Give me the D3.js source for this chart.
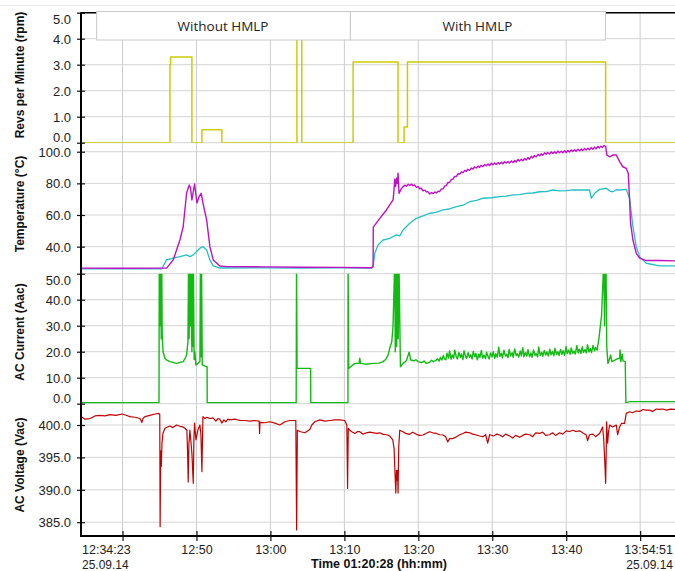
<!DOCTYPE html>
<html><head><meta charset="utf-8">
<script src="https://cdn.jsdelivr.net/npm/d3@7/dist/d3.min.js"></script>
<style>body{margin:0;background:#fff}svg{display:block}</style>
</head><body>
<svg id="c" width="675" height="571"></svg>
<script>
// ---------------- DATA ----------------
const startTime = "2014-09-25 12:34:23";
const endTime = "2014-09-25 13:54:51";
const gridTimes = ["12:40","12:50","13:00","13:10","13:20","13:30","13:40","13:50"];
const labelTimes = ["12:50","13:00","13:10","13:20","13:30","13:40"];
const startLabel = ["12:34:23", "25.09.14"];
const endLabel = ["13:54:51", "25.09.14"];
const xTitle = "Time 01:20:28 (hh:mm)";
const legendLabels = ["Without HMLP", "With HMLP"];
const legendSplitTimes = ["12:36:26", "13:10:45", "13:45:15"];

const revTicks = [0,1,2,3,4,5];
const tempTicks = [40,60,80,100];
const currTicks = [0,10,20,30,40,50];
const voltTicks = [385,390,395,400];
const revDomain = [0,5];
const tempDomain = [22.9,105.7];
const currDomain = [0,50];
const voltDomain = [382.87,403.29];

// [elapsed minutes, value]
const revs = [[0,0],[12.03,3.0],[12.12,3.3],[15.0,0],[16.35,0.5],[19.05,0],[29.2,8],[29.86,0],
  [36.8,3.1],[42.88,0],[43.69,0.6],[44.15,3.1],[70.95,0],[80.47,0]];

const tempA = [[0,26.4],[5,26.3],[11.58,26.4],[12.47,31.6],[13.38,44.2],[13.82,52.6],[14.28,73.9],[14.64,79.0],
  [14.8,77.1],[15.0,69.5],[15.36,79.6],[15.68,67.6],[15.95,71.4],[16.26,73.7],[16.49,67.6],[16.99,56.9],
  [17.43,40.0],[17.88,31.6],[18.78,27.8],[19.73,27.4],[25,27.2],[29.6,27.0],[35,26.9],[39.28,26.7],[39.5,27.4],
  [39.53,52.3],[40.41,57.9],[41.31,63.2],[42.2,69.5],[42.3,74],[42.43,82.6],[42.55,78],[42.66,83.2],[42.78,80],
  [42.88,86.4],[43.01,73.7],[43.3,76.5],
  [43.55,77.9],[43.8,78.9],[44.0,78.2],[44.25,79.4],[44.46,78.6],[44.7,79.5],[44.9,78.5],[45.1,79.0],[45.36,77.5],
  [45.6,77.9],[45.8,76.6],[46.0,76.9],[46.26,75.3],[46.5,75.7],[46.7,74.6],[46.9,74.8],[47.16,73.3],[47.4,74.2],
  [47.6,73.5],[47.85,74.6],[48.07,73.9],[48.3,75.1],[48.5,74.8],[48.75,76.5],[48.96,76.5],[49.2,78.4],[49.4,78.6],
  [49.6,80.4],[49.86,80.7],[50.1,82.5],[50.3,82.6],[50.5,84.3],[50.75,84.3],[51.0,86.1],[51.22,85.9],[51.45,87.3],
  [51.65,86.7],[51.9,88.2],[52.1,87.6],[52.3,88.9],[52.55,88.2],[52.8,89.7],[53.01,89.0],[53.2,90.4],[53.45,89.7],
  [53.7,91.0],[53.9,90.1],[54.1,91.4],[54.35,90.6],[54.6,91.9],[54.82,91.1],[55.05,92.2],[55.25,91.3],[55.5,92.7],
  [55.7,91.8],[55.95,92.9],[56.15,91.9],[56.4,93.1],[56.62,92.2],[56.85,93.4],[57.05,92.4],[57.3,93.7],[57.5,92.8],
  [57.75,93.8],[57.95,92.9],[58.2,94.2],[58.42,93.2],[58.65,94.4],[58.85,93.5],[59.1,95.1],[59.3,94.1],[59.55,95.3],
  [59.75,94.3],[60.0,95.8],[60.23,94.8],[60.45,96.3],[60.65,95.3],[60.9,97.1],[61.1,96.1],[61.3,97.6],[61.55,96.7],
  [61.8,98.3],[62.03,97.4],[62.25,98.7],[62.45,97.7],[62.7,99.3],[62.9,98.4],[63.1,99.5],[63.35,98.5],[63.6,99.9],
  [63.82,98.9],[64.05,100.0],[64.25,99.0],[64.5,100.4],[64.7,99.4],[64.95,100.3],[65.15,99.3],[65.4,100.6],
  [65.63,99.5],[65.85,100.8],[66.05,99.8],[66.3,101.1],[66.5,100.1],[66.75,101.3],[66.95,100.3],[67.2,101.6],
  [67.43,100.6],[67.65,101.7],[67.85,100.7],[68.1,102.1],[68.3,101.1],[68.55,102.2],[68.75,101.2],[69.0,102.6],
  [69.23,101.6],[69.45,102.9],[69.65,101.9],[69.9,103.3],[70.1,102.4],[70.3,103.5],[70.5,102.6],[70.75,103.9],
  [70.95,103.4],[71.12,97.9],[71.49,96.8],[71.93,97.9],[72.39,97.9],[72.84,93.7],
  [73.28,90.5],[73.74,89.5],[74.01,86.4],[74.19,69.5],[74.32,55.0],[74.64,44.2],[75.09,35.8],[75.54,32.7],
  [76.45,31.2],[78.24,31.2],[80.47,31.0]];

const tempB = [[0,25.9],[5,26.0],[10.9,25.9],[11.58,31.6],[12.47,32.7],[13.38,33.7],[14.28,34.8],[14.73,33.7],
  [15.18,34.8],[16.08,39.0],[16.49,40.0],[16.99,37.9],[17.43,31.6],[17.88,27.8],[18.78,26.5],[25,26.6],[30,26.5],
  [35,26.6],[39.3,26.5],[39.5,27.4],[39.73,35.8],[40.18,41.1],[40.85,44.2],[41.76,45.3],[42.66,47.4],[43.11,46.8],
  [43.55,50.5],[44.46,54.8],[45.36,57.9],[46.26,59.4],[47.16,61.1],[48.0,61.6],[48.96,63.2],[49.8,63.8],[50.77,65.3],
  [51.7,66.3],[52.57,68.4],[53.5,69.2],[54.36,70.6],[55.5,70.9],[56.62,71.6],[57.5,71.9],[58.42,72.7],[59.3,72.9],
  [60.23,73.7],[61.1,73.9],[62.03,74.7],[62.9,74.8],[63.82,75.8],[64.7,75.3],[65.63,75.4],[66.5,75.9],[67.43,75.8],
  [68.78,75.8],[69.01,70.6],[69.46,73.7],[70.14,76.2],[71.04,76.9],[71.5,75.1],[71.93,74.7],[72.4,76.0],[72.84,75.8],
  [73.74,76.2],[74.19,70.6],[74.64,52.6],[75.09,40.0],[75.54,33.7],[76.45,29.5],[78.24,27.8],[80.47,27.8]];

const current = [[0,0.4],[10.55,0.4],[10.58,52],[10.7,30],[10.78,55],[10.85,25],[10.92,55],[10.98,26.4],[11.1,20],
  [11.35,17.5],[11.6,16.8],[12.03,16.2],[12.5,15.8],[12.93,15.5],[13.4,15.9],[13.82,16.2],[14.1,17.5],[14.28,18.7],
  [14.46,23.8],[14.55,55],[14.62,25],[14.7,55],[14.78,30],[14.85,55],[14.92,34],[15.0,20],[15.05,55],[15.12,22],
  [15.2,55],[15.3,17],[15.4,20],[15.54,14.9],[15.8,15.5],[16.08,16.2],[16.15,55],[16.22,18],[16.3,55],[16.4,14.9],
  [16.99,14.2],[17.05,14.2],[17.07,0.4],[29.1,0.4],[29.15,55],[29.22,13.6],[31.05,13.6],[31.08,0.4],[36.1,0.4],
  [36.12,55],[36.2,13.6],[36.5,14.3],[37.03,15.5],[37.6,15.5],[37.7,17.5],[37.8,15.5],[38.5,15.2],[39.5,15.5],
  [40.3,15.6],[40.85,16.2],[41.2,17.0],[41.53,18.7],[41.75,21.3],[42.03,23.8],[42.2,30],[42.43,55],[42.5,20],
  [42.6,55],[42.7,22],[42.8,55],[42.9,25],[43.0,55],[43.2,14.2],[43.55,15.5],[44.0,16.5],[44.37,19.8],[44.6,16.8],
  [45.0,16.5],[45.3,16.9],[45.58,16.2],[46.1,15.8],[46.4,16.4],[46.71,15.5],[47.2,16.0],[47.4,16.7],[47.61,16.2],
  [48.0,16.6],[48.2,17.3],[48.45,16.4],[48.6,17.9],[48.8,16.8],[49.0,18.6],[49.15,17.2],[49.35,16.9],[49.5,19.4],
  [49.7,17.6],[49.85,20.3],[50.05,17.1],[50.2,18.8],[50.4,17.5],[50.55,20.6],[50.75,18.0],[50.9,17.2],[51.1,19.7],
  [51.3,17.8],[51.45,19.1],[51.65,17.0],[51.8,20.4],[52.0,18.2],[52.15,17.4],[52.35,19.6],[52.55,17.9],[52.7,18.8],
  [52.9,17.2],[53.05,20.1],[53.25,18.0],[53.4,19.3],[53.6,16.9],[53.8,19.0],[53.95,17.8],[54.15,20.5],[54.3,17.5],
  [54.5,18.7],[54.7,17.3],[54.85,19.8],[55.05,18.1],[55.2,17.2],[55.4,19.5],[55.6,18.0],[55.75,20.0],[55.95,17.4],
  [56.1,19.2],[56.3,17.9],[56.5,21.7],[56.65,18.2],[56.85,19.4],[57.0,17.6],[57.2,20.6],[57.4,18.3],[57.55,19.0],
  [57.75,17.7],[57.9,20.9],[58.1,18.4],[58.3,19.6],[58.45,17.8],[58.65,21.1],[58.85,18.5],[59.0,19.2],[59.2,17.9],
  [59.4,20.3],[59.55,18.4],[59.75,21.5],[59.9,18.0],[60.1,19.7],[60.3,18.3],[60.45,20.8],[60.65,18.1],[60.85,19.5],
  [61.0,17.8],[61.2,20.7],[61.4,18.6],[61.55,19.3],[61.75,18.0],[61.9,21.8],[62.1,18.6],[62.3,19.8],[62.45,18.2],
  [62.65,20.5],[62.85,18.7],[63.0,19.9],[63.2,18.3],[63.4,21.0],[63.55,18.8],[63.75,20.1],[63.95,18.4],[64.1,21.3],
  [64.3,18.9],[64.5,20.0],[64.65,18.5],[64.85,20.9],[65.05,19.0],[65.2,20.4],[65.4,18.6],[65.6,22.0],[65.75,19.3],
  [65.95,20.6],[66.15,19.0],[66.3,21.4],[66.5,19.4],[66.7,20.2],[66.85,19.1],[67.05,22.3],[67.25,19.5],[67.4,21.0],
  [67.6,19.3],[67.8,21.9],[67.95,19.7],[68.15,20.8],[68.35,19.5],[68.5,22.7],[68.7,19.9],[68.9,21.2],[69.05,19.7],
  [69.25,22.4],[69.45,20.3],[69.6,21.6],[69.8,20.6],[70.05,25.2],[70.4,34],[70.6,48],
  [70.7,55],[70.8,30],[70.88,55],[70.95,40],[71.0,55],[71.1,22],[71.26,15.5],[71.45,17],[71.62,18.7],[71.8,16.2],
  [72.2,16.8],[72.5,17.2],[72.84,17.5],[72.9,20.7],[73.0,16.2],[73.2,19],[73.3,16.5],[73.6,16.2],[73.69,0.4],
  [74.3,0.8],[80.47,0.8]];

const voltage = [[0,401.3],[0.54,400.9],[1.22,401.0],[1.89,401.4],[2.57,401.5],[3.24,401.4],[3.92,401.6],[4.73,401.5],
  [5.54,401.7],[6.08,401.5],[6.62,401.3],[7.3,401.2],[7.97,401.0],[8.24,400.4],[8.38,401.0],[8.65,401.3],[9.32,401.5],
  [10.0,401.7],[10.54,401.8],[10.65,401.6],[10.7,384.3],[10.78,396],[10.86,393.6],[10.95,397.2],[11.08,398.7],
  [11.35,399.5],[12.03,399.85],[12.43,399.6],[12.93,400.0],[13.38,399.8],[13.78,399.7],[14.05,399.5],[14.32,399.2],
  [14.41,396],[14.5,391.2],[14.59,397],[14.73,399.2],[14.86,397.5],[15.0,395.6],[15.18,391.0],[15.27,398],[15.36,400.3],
  [15.54,397.7],[15.81,399.2],[16.08,400.0],[16.22,398.5],[16.35,392.8],[16.49,401.3],[16.76,401.0],[17.03,401.2],
  [17.43,401.0],[17.84,401.1],[18.24,400.6],[18.51,401.0],[18.78,400.9],[19.05,400.3],[19.32,400.8],[19.59,400.5],
  [19.86,400.9],[20.14,400.8],[20.81,400.9],[21.49,400.7],[22.16,400.7],[22.84,400.6],[23.51,400.7],[24.09,400.6],
  [24.15,398.7],[24.2,400.4],[24.86,400.35],[25.54,400.5],[26.22,400.3],[26.89,400.0],[27.57,400.5],[28.24,400.7],
  [29.05,400.7],[29.16,383.8],[29.26,399.2],[29.59,399.0],[30.27,398.8],[30.95,399.3],[31.22,400.0],[31.62,400.5],
  [32.3,400.8],[32.97,400.6],[33.65,400.7],[34.32,400.8],[35.0,400.8],[35.68,400.7],[35.95,400.0],[36.05,390.2],
  [36.15,399.5],[36.35,399.2],[36.62,398.97],[37.03,398.7],[37.43,399.0],[37.7,398.97],[38.11,398.6],[38.61,398.8],
  [39.05,398.9],[39.96,398.7],[40.41,398.8],[40.85,398.56],[41.35,398.5],[41.76,398.3],[42.16,397.7],[42.34,396.4],
  [42.43,393.6],[42.57,389.5],[42.66,393],[42.74,391.5],[42.81,393],[42.88,389.5],[42.97,396.65],[43.11,399.2],
  [43.55,398.97],[43.92,398.7],[44.46,398.56],[44.86,398.9],[45.36,398.56],[45.81,398.4],[46.26,398.46],[46.62,398.7],
  [47.16,398.97],[47.57,398.8],[48.07,398.7],[48.51,398.5],[48.96,398.46],[49.32,398.2],[49.59,397.4],[49.86,397.9],
  [50.27,397.9],[50.77,398.2],[51.22,398.5],[51.66,398.7],[52.03,398.9],[52.57,398.8],[52.97,398.6],[53.47,398.46],
  [53.92,398.3],[54.36,398.2],[54.73,398.5],[55.0,397.2],[55.27,398.5],[55.81,398.3],[56.22,398.6],[56.62,398.46],
  [57.03,398.2],[57.43,398.6],[57.97,398.3],[58.38,398.0],[58.78,398.4],[59.32,398.1],[59.73,398.4],[60.14,398.6],
  [60.68,398.5],[61.08,398.2],[61.49,398.8],[62.03,398.7],[62.43,398.9],[62.84,398.4],[63.38,398.5],[63.78,398.8],
  [64.19,398.4],[64.73,398.8],[65.14,398.6],[65.63,399.1],[66.08,399.0],[66.53,399.2],[66.89,399.0],[67.43,399.1],
  [67.84,398.8],[68.33,398.46],[68.51,397.6],[68.78,398.5],[69.23,398.6],[69.59,398.2],[70.14,398.7],[70.54,399.7],
  [70.68,398],[70.85,394],[70.95,391.0],[71.03,396],[71.08,400.5],[71.22,397.2],[71.35,399],[71.49,400.0],
  [71.89,399.7],[72.39,400.0],[72.57,398.5],[72.84,399.7],[73.11,400.26],[73.51,400.26],[73.74,401.8],[74.19,402.05],
  [74.59,401.9],[75.09,402.16],[75.54,402.1],[76.0,402.4],[76.45,402.3],[76.89,402.3],[77.3,402.1],[77.8,402.47],
  [78.24,402.4],[78.69,402.47],[79.19,402.3],[79.73,402.45],[80.47,402.4]];

// ---------------- CHART ----------------
const svg = d3.select("#c");
const L = 81, R = 676, TOP = 12.7, BOT = 536;
const edges = [12.7, 142.7, 273.7, 403.7, 536];
const FONT = "'Liberation Sans', Arial, sans-serif";
const pt = d3.timeParse("%Y-%m-%d %H:%M:%S");
const t0 = pt(startTime), t1 = pt(endTime);
const day = "2014-09-25 ";
const atClock = s => pt(day + (s.length === 5 ? s + ":00" : s));
const atMin = m => new Date(t0.getTime() + m * 60000);
const x = d3.scaleTime().domain([t0, t1]).range([L, R]);

svg.append("rect").attr("width", 675).attr("height", 571).attr("fill", "#fff");
svg.append("line").attr("x1", 0).attr("x2", 675).attr("y1", 5.5).attr("y2", 5.5)
  .attr("stroke", "#ececec").attr("stroke-width", 1);

const panels = [
  {domain: revDomain, ticks: revTicks, title: "Revs per Minute (rpm)", ty: 75,
   series: [{data: revs, color: "#cccc00", curve: d3.curveStepAfter, w: 1.5}]},
  {domain: tempDomain, ticks: tempTicks, title: "Temperature (°C)", ty: 204,
   series: [{data: tempB, color: "#22c0c4", curve: d3.curveLinear, w: 1.3},
            {data: tempA, color: "#c010c4", curve: d3.curveLinear, w: 1.4}]},
  {domain: currDomain, ticks: currTicks, title: "AC Current (Aac)", ty: 332,
   series: [{data: current, color: "#11bb11", curve: d3.curveLinear, w: 1.4}]},
  {domain: voltDomain, ticks: voltTicks, title: "AC Voltage (Vac)", ty: 465,
   series: [{data: voltage, color: "#c40000", curve: d3.curveLinear, w: 1.2}]}
];

const gGrid = svg.append("g");
const gLines = svg.append("g");
const gAxis = svg.append("g");

gGrid.selectAll("line.v").data(gridTimes).join("line")
  .attr("x1", d => x(atClock(d))).attr("x2", d => x(atClock(d)))
  .attr("y1", TOP).attr("y2", BOT).attr("stroke", "#cdcdcd").attr("stroke-width", 1);

panels.forEach((p, i) => {
  const y = d3.scaleLinear().domain(p.domain).range([edges[i + 1], edges[i]]);
  gGrid.selectAll(null).data(p.ticks).join("line")
    .attr("x1", L).attr("x2", R).attr("y1", d => y(d)).attr("y2", d => y(d))
    .attr("stroke", "#d4d4d4").attr("stroke-width", 1);

  const cid = "clip" + i;
  svg.append("clipPath").attr("id", cid).append("rect")
    .attr("x", L).attr("y", edges[i]).attr("width", R - L).attr("height", edges[i + 1] - edges[i]);
  const gl = gLines.append("g").attr("clip-path", `url(#${cid})`);
  p.series.forEach(s => {
    const line = d3.line().x(d => x(atMin(d[0]))).y(d => y(d[1])).curve(s.curve);
    gl.append("path").attr("d", line(s.data)).attr("fill", "none")
      .attr("stroke", s.color).attr("stroke-width", s.w).attr("stroke-linejoin", "round");
  });

  const ax = d3.axisLeft(y).tickValues(p.ticks).tickSize(0).tickFormat(d3.format(".1f"));
  const ga = gAxis.append("g").attr("transform", `translate(${L},0)`).call(ax);
  ga.select(".domain").remove();
  ga.selectAll(".tick text").attr("x", -10).attr("font-size", 13).attr("font-family", FONT).attr("fill", "#222")
    .attr("dy", d => d === p.domain[1] ? "0.85em" : (d === p.domain[0] ? "-0.1em" : "0.35em"));
  ga.selectAll(".tick").append("line").attr("x1", -4).attr("x2", 4).attr("stroke", "#111").attr("stroke-width", 1.2);

  gAxis.append("text").attr("transform", `translate(24,${p.ty}) rotate(-90)`)
    .attr("text-anchor", "middle").attr("font-family", FONT).attr("font-weight", "bold")
    .attr("font-size", 12).attr("fill", "#111").text(p.title);
});

gAxis.append("line").attr("x1", L).attr("x2", L).attr("y1", TOP - 0.5).attr("y2", BOT + 1)
  .attr("stroke", "#000").attr("stroke-width", 2);
gAxis.append("line").attr("x1", L - 1).attr("x2", R).attr("y1", BOT).attr("y2", BOT)
  .attr("stroke", "#000").attr("stroke-width", 2);
gAxis.append("line").attr("x1", L).attr("x2", R).attr("y1", TOP).attr("y2", TOP)
  .attr("stroke", "#000").attr("stroke-width", 1.5);

const xa = d3.axisBottom(x).tickValues(gridTimes.map(atClock)).tickSizeInner(5).tickSizeOuter(0)
  .tickFormat(d => { const s = d3.timeFormat("%H:%M")(d); return labelTimes.includes(s) ? s : ""; });
const gx = gAxis.append("g").attr("transform", `translate(0,${BOT})`).call(xa);
gx.select(".domain").remove();
gx.selectAll(".tick line").attr("y1", -5).attr("y2", 5).attr("stroke", "#111").attr("stroke-width", 1.2);
gx.selectAll(".tick text").attr("y", 18).attr("dy", 0).attr("font-size", 12.5)
  .attr("font-family", FONT).attr("fill", "#222");

const tx = (t, xx, yy, anchor, bold, fs) => gAxis.append("text").attr("x", xx).attr("y", yy)
  .attr("text-anchor", anchor).attr("font-family", FONT).attr("font-size", fs)
  .attr("font-weight", bold ? "bold" : "normal").attr("fill", bold ? "#111" : "#222").text(t);
tx(startLabel[0], x(t0) + 1, 554, "start", false, 12.5);
tx(startLabel[1], x(t0) + 1, 568.5, "start", false, 12);
tx(endLabel[0], 673, 554, "end", false, 12.5);
tx(endLabel[1], 673, 568.5, "end", false, 12);
tx(xTitle, 379, 568.3, "middle", true, 12.5);

const gLeg = svg.append("g");
legendLabels.forEach((lab, i) => {
  const xa0 = x(atClock(legendSplitTimes[i])), xa1 = x(atClock(legendSplitTimes[i + 1]));
  gLeg.append("rect").attr("x", xa0 + 0.5).attr("y", 11.5).attr("width", xa1 - xa0).attr("height", 28.5)
    .attr("fill", "#fff").attr("stroke", "#c8c8c8").attr("stroke-width", 1);
  gLeg.append("text").attr("x", (xa0 + xa1) / 2).attr("y", 30.5).attr("text-anchor", "middle")
    .attr("font-family", "'Open Sans', 'Noto Sans', sans-serif").attr("font-size", 13.5).attr("fill", "#222").text(lab);
});
</script>
</body></html>
